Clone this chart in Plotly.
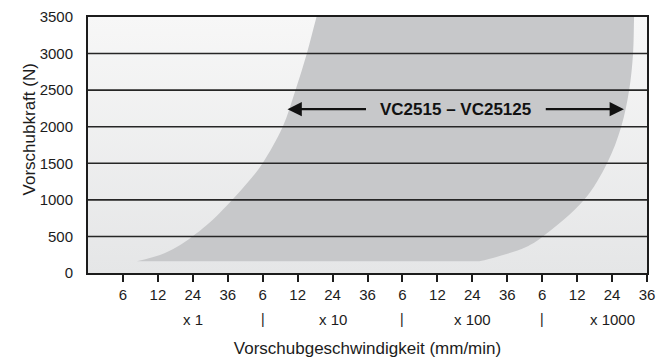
import plotly.graph_objects as go

# Speed axis: four decades, each split into 6 / 12 / 24 / 36 mm/min
speed_ticks = ["6", "12", "24", "36"] * 4
decade_labels = ["x 1", "x 10", "x 100", "x 1000"]

# Force axis (N)
force_max = 3500
force_step = 500

# Operating band VC2515 – VC25125: slow-speed edge (bottom -> top) and fast-speed edge (top -> bottom)
left_edge_pos = [1.40, 2.06, 2.54, 2.97, 3.40, 3.77, 4.63, 5.00, 5.57, 5.94, 6.26, 6.54, 6.83]
left_edge_force = [160, 246, 355, 492, 656, 820, 1271, 1504, 1996, 2502, 2994, 3500, 4000]
right_edge_pos = [15.66, 15.63, 15.60, 15.49, 15.26, 14.86, 14.20, 13.00, 12.54, 11.69, 11.20]
right_edge_force = [4000, 3500, 2994, 2502, 1996, 1504, 1000, 492, 355, 219, 160]

band_label = "VC2515 – VC25125"
label_force = 2240
label_pos = 10.51
arrow_left = (8.0, 5.71)    # tail, tip
arrow_right = (13.06, 15.34)

n_pos = len(speed_ticks)
font_family = "Liberation Sans, Arial, sans-serif"
ink = "#1c1c1c"

fig = go.Figure()

# plot-area background with a soft vertical gradient
fig.add_trace(go.Scatter(
    x=[0, n_pos, n_pos, 0, 0], y=[0, 0, force_max, force_max, 0],
    mode="lines", line=dict(width=0), fill="toself",
    fillgradient=dict(type="vertical", colorscale=[[0, "#e5e6e7"], [1, "#f7f7f7"]]),
    hoverinfo="skip", showlegend=False,
))

# operating band (path closes along its flat bottom)
fig.add_trace(go.Scatter(
    x=left_edge_pos + right_edge_pos, y=left_edge_force + right_edge_force,
    mode="lines", line=dict(width=0, shape="spline", smoothing=1.0),
    fill="toself", fillcolor="#c7c8ca", hoverinfo="skip", showlegend=False,
))

# horizontal reference lines on top of the band
for f in range(force_step, force_max, force_step):
    fig.add_shape(type="line", xref="x", yref="y", x0=0, x1=n_pos, y0=f, y1=f,
                  line=dict(color="#262626", width=1.6), layer="above")

# band label with arrows
fig.add_annotation(x=label_pos, y=label_force, text="<b>%s</b>" % band_label,
                   showarrow=False, font=dict(family=font_family, size=17, color="#111"))
for tail, tip in (arrow_left, arrow_right):
    fig.add_annotation(x=tip, y=label_force, ax=tail, ay=label_force,
                       axref="x", ayref="y", xref="x", yref="y", text="",
                       showarrow=True, arrowhead=2, arrowsize=1.3, arrowwidth=2.2,
                       arrowcolor="#111")

# decade labels and separators below the speed ticks
for i, lab in enumerate(decade_labels):
    fig.add_annotation(x=4 * i + 3, y=0, xref="x", yref="paper", yanchor="middle",
                       yshift=-46, text=lab, showarrow=False,
                       font=dict(family=font_family, size=15, color=ink))
    if i < len(decade_labels) - 1:
        fig.add_annotation(x=4 * i + 5, y=0, xref="x", yref="paper", yanchor="middle",
                           yshift=-46, text="|", showarrow=False,
                           font=dict(family=font_family, size=14, color=ink))

# vertical axis title
fig.add_annotation(x=0, y=0.559, xref="paper", yref="paper", xshift=-70,
                   text="Vorschubkraft (N)", textangle=-90, showarrow=False,
                   font=dict(family=font_family, size=17, color=ink))

fig.update_layout(
    width=656, height=361,
    margin=dict(l=88, r=9, t=17, b=88, autoexpand=False),
    paper_bgcolor="white", plot_bgcolor="#eeeeee",
    font=dict(family=font_family, size=15, color=ink),
    showlegend=False,
)
fig.update_xaxes(
    range=[0, n_pos], tickmode="array", automargin=False,
    tickvals=list(range(1, n_pos + 1)), ticktext=speed_ticks,
    ticks="outside", ticklen=7, tickwidth=1.5, tickcolor=ink,
    showline=True, linecolor=ink, linewidth=2, mirror=True,
    showgrid=False, zeroline=False,
    title=dict(text="Vorschubgeschwindigkeit (mm/min)", standoff=40,
               font=dict(family=font_family, size=17, color=ink)),
)
fig.update_yaxes(
    range=[0, force_max], dtick=force_step, tick0=0, automargin=False,
    ticks="outside", ticklen=10, tickcolor="rgba(0,0,0,0)",
    showline=True, linecolor=ink, linewidth=2, mirror=True,
    showgrid=False, zeroline=False,
)

fig.write_html("out.html")
